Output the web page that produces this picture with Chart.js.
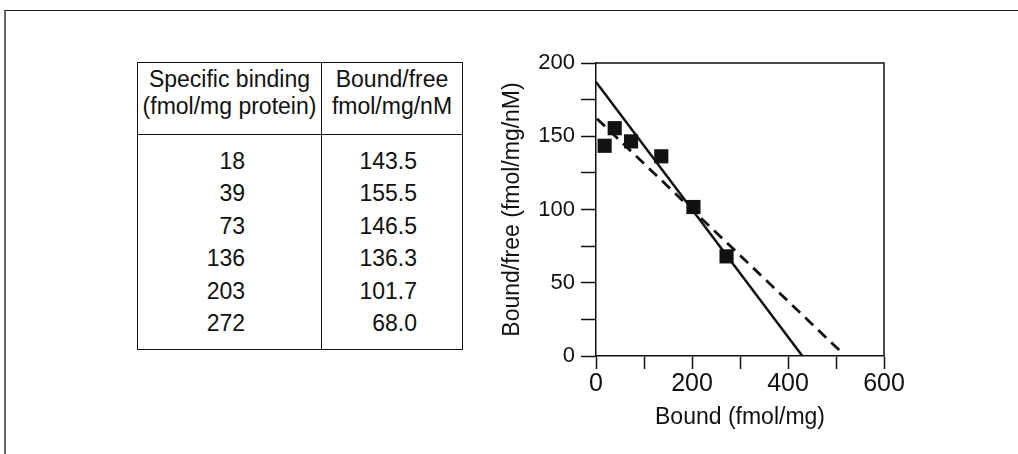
<!DOCTYPE html>
<html lang="en">
<head>
<meta charset="UTF-8">
<title>Scatchard plot</title>
<script src="https://cdn.jsdelivr.net/npm/chart.js"></script>
<style>
  body { margin: 0; width: 1018px; height: 454px; overflow: hidden; background: #fff;
         font-family: 'Liberation Sans', Arial, sans-serif; color: #111; position: relative; }
  #frame { position: absolute; left: 4px; top: 10px; width: 1040px; height: 470px;
           border-top: 1.5px solid #222; border-left: 2px solid #666; }
  #binding { position: absolute; left: 137px; top: 62px; width: 325px;
             border-collapse: collapse; table-layout: fixed; font-size: 23px; border: 1.5px solid #111; }
  #binding th { font-weight: normal; height: 68px; line-height: 27px; padding: 3px 0 0 0;
                vertical-align: top; border-bottom: 1px solid #111; white-space: nowrap; }
  #binding td { height: 32.4px; padding: 0; text-align: right; line-height: 32.4px; }
  #binding td:first-child { padding-right: 76px; }
  #binding td:last-child { padding-right: 45px; }
  #binding th:last-child, #binding td:last-child { border-left: 1px solid #111; }
  #binding tr.gap td { height: 10px; line-height: 10px; }
  #chartBox { position: absolute; left: 490px; top: 40px; width: 430px; height: 414px; }
</style>
</head>
<body>
<div id="frame"></div>

<table id="binding">
  <colgroup><col style="width:184px"><col style="width:141px"></colgroup>
  <thead>
    <tr><th>Specific binding<br>(fmol/mg protein)</th><th>Bound/free<br>fmol/mg/nM</th></tr>
  </thead>
  <tbody id="rows"></tbody>
</table>

<div id="chartBox"><canvas id="scatchard"></canvas></div>

<script>
// measured points: bound (fmol/mg protein) and bound/free (fmol/mg/nM)
const boundValues = [18, 39, 73, 136, 203, 272];
const ratioValues = [143.5, 155.5, 146.5, 136.3, 101.7, 68.0];

// the two fitted lines, end points
const solidFitX = [0, 430];
const solidFitY = [187, 0];
const dashedFitX = [2, 510];
const dashedFitY = [162, 3];

const xTickLabels = [0, 200, 400, 600];
const yTickLabels = [0, 50, 100, 150, 200];

// fill the table from the same data
const tbody = document.getElementById('rows');
function addRow(cells, cls) {
    const tr = document.createElement('tr');
    if (cls) tr.className = cls;
    cells.forEach(c => {
        const td = document.createElement('td');
        td.textContent = c;
        tr.appendChild(td);
    });
    tbody.appendChild(tr);
}
addRow(['', ''], 'gap');
boundValues.forEach((b, i) => addRow([b, ratioValues[i].toFixed(1)]));
addRow(['', ''], 'gap');

function toPoints(xs, ys) {
    return xs.map((x, i) => ({ x: x, y: ys[i] }));
}

// top and right edges of the plot box
const boxEdges = {
    id: 'boxEdges',
    afterDraw(chart) {
        const { ctx, chartArea: a } = chart;
        ctx.save();
        ctx.strokeStyle = '#111';
        ctx.lineWidth = 1.5;
        ctx.beginPath();
        ctx.moveTo(a.left, a.top);
        ctx.lineTo(a.right, a.top);
        ctx.lineTo(a.right, a.bottom);
        ctx.stroke();
        ctx.restore();
    }
};

Chart.defaults.font.family = "'Liberation Sans', Arial, sans-serif";
Chart.defaults.color = '#111';

new Chart(document.getElementById('scatchard'), {
    type: 'scatter',
    data: {
        datasets: [
            {
                label: 'Fit 1',
                data: toPoints(solidFitX, solidFitY),
                showLine: true,
                borderColor: '#111',
                borderWidth: 2.5,
                pointRadius: 0
            },
            {
                label: 'Fit 2',
                data: toPoints(dashedFitX, dashedFitY),
                showLine: true,
                borderColor: '#111',
                borderWidth: 2.8,
                borderDash: [11, 7],
                pointRadius: 0
            },
            {
                label: 'Binding',
                data: toPoints(boundValues, ratioValues),
                pointStyle: 'rect',
                pointRadius: 10,
                backgroundColor: '#111',
                borderWidth: 0
            }
        ]
    },
    options: {
        responsive: true,
        maintainAspectRatio: false,
        animation: false,
        layout: { padding: { top: 23, right: 36, left: 0, bottom: 0 } },
        plugins: {
            legend: { display: false },
            tooltip: { enabled: false }
        },
        scales: {
            x: {
                type: 'linear',
                min: 0,
                max: 600,
                afterFit: s => { s.height = 98; },
                ticks: {
                    stepSize: 100,
                    padding: 0,
                    maxRotation: 0,
                    autoSkip: false,
                    font: { size: 25 },
                    callback: v => xTickLabels.includes(v) ? v : ''
                },
                grid: { drawOnChartArea: false, tickLength: 13, tickColor: '#111', tickWidth: 1.5 },
                border: { color: '#111', width: 1.5 },
                title: {
                    display: true,
                    text: 'Bound (fmol/mg)',
                    font: { size: 23 },
                    padding: { top: 0, bottom: 23 }
                }
            },
            y: {
                min: 0,
                max: 200,
                afterFit: s => { s.width = 106; },
                ticks: {
                    stepSize: 25,
                    padding: 6,
                    autoSkip: false,
                    font: { size: 22 },
                    callback: v => yTickLabels.includes(v) ? v : ''
                },
                grid: { drawOnChartArea: false, tickLength: 15, tickColor: '#111', tickWidth: 1.5 },
                border: { color: '#111', width: 1.5 },
                title: {
                    display: true,
                    text: 'Bound/free (fmol/mg/nM)',
                    font: { size: 23 },
                    padding: { top: 9, bottom: 0 }
                }
            }
        }
    },
    plugins: [boxEdges]
});
</script>
</body>
</html>
